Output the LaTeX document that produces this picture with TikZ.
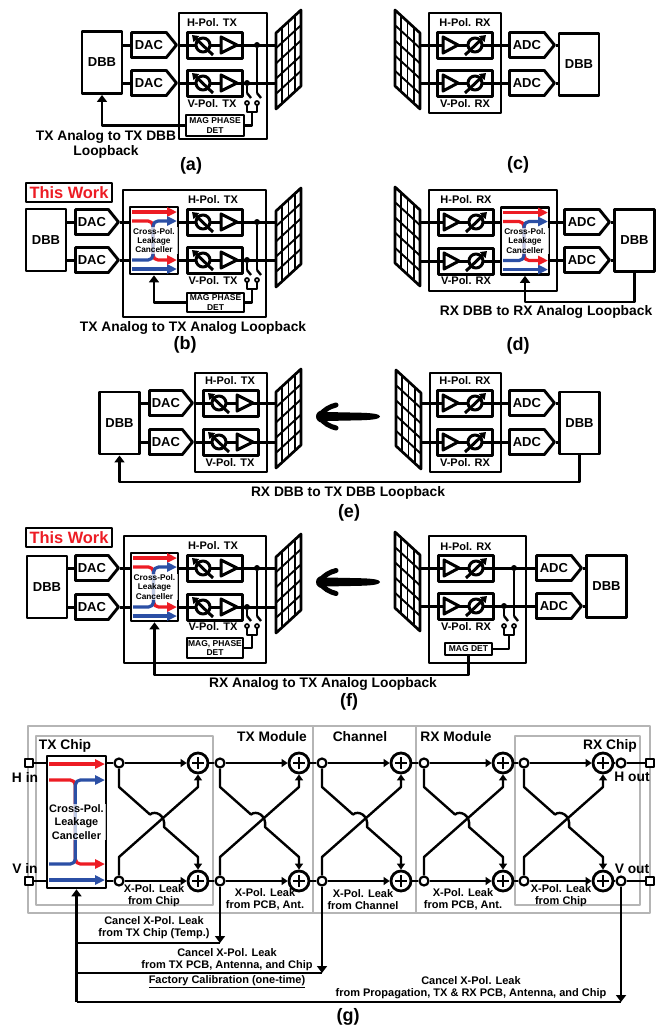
\documentclass[tikz,border=0pt]{standalone}
\usepackage{fontspec}
\setmainfont{Liberation Sans}
\usetikzlibrary{arrows.meta,shapes.symbols}
\definecolor{vermelho}{HTML}{ED1C24}
\definecolor{azul}{HTML}{2B4FA5}
\definecolor{cinza}{HTML}{B5B5B5}

\begin{document}
\begin{tikzpicture}[
        x=1pt, y=-1pt,
        >={Triangle[length=7pt,width=10pt]},
        line join=round,
        sig/.style={line width=3pt},
        fio/.style={line width=2.4pt},
        fino/.style={line width=1.9pt},
        gfio/.style={line width=2.4pt},
        seta/.style={-{Triangle[length=6pt,width=8pt]}},
        mod/.style={line width=2.9pt},
        moldura/.style={line width=2.6pt, draw=cinza},
        dbb/.style={rectangle, draw, line width=2.9pt, fill=white, minimum width=40pt, minimum height=62pt, inner sep=0pt, font=\fontsize{13}{15}\selectfont\bfseries},
        dac/.style={signal, signal to=east, signal from=nowhere, signal pointer angle=102, draw, line width=2.9pt, fill=white, anchor=west, minimum width=45pt, minimum height=25pt, inner sep=0pt, font=\fontsize{13}{15}\selectfont\bfseries},
        mag/.style={rectangle, draw, line width=1.7pt, fill=white, inner sep=0pt, align=center, font=\fontsize{8.5}{9.5}\selectfont\bfseries},
        dot/.style={circle, fill=black, minimum size=6pt, inner sep=0pt},
        work/.style={rectangle, draw, line width=1.4pt, fill=white, minimum width=86pt, minimum height=19pt, inner sep=0pt, text=vermelho, font=\fontsize{16.4}{18}\selectfont\bfseries},
        lab/.style={inner sep=0pt, align=center, font=\fontsize{11}{12}\selectfont\bfseries},
        titulo/.style={inner sep=0pt, align=center, font=\fontsize{13.8}{15}\selectfont\bfseries},
        fig/.style={inner sep=0pt, font=\fontsize{18}{20}\selectfont\bfseries},
        tap/.style={circle, draw, line width=2.2pt, fill=white, minimum size=9pt, inner sep=0pt},
        porta/.style={rectangle, draw, line width=2.4pt, fill=white, minimum size=7.5pt, inner sep=0pt},
        summer/.style={circle, draw, line width=2.8pt, fill=white, minimum size=20pt, inner sep=0pt,
            path picture={\draw[line width=2.5pt]
                ([xshift=-6pt]path picture bounding box.center) -- ([xshift=6pt]path picture bounding box.center)
                ([yshift=-6pt]path picture bounding box.center) -- ([yshift=6pt]path picture bounding box.center);}},
        txpath/.pic={
            \coordinate (-in) at (0,0);
            \coordinate (-out) at (55,0);
            \draw[sig, fill=white] (0,-13) rectangle (55,13);
            \draw[sig] (-in) -- (-out);
            \draw[sig, fill=white] (16,0) circle (7);
            \draw[sig, -{Triangle[length=6pt,width=8pt]}] (26,10) -- (5,-10);
            \draw[sig, fill=white] (34,-8) -- (34,8) -- (50,0) -- cycle;
        },
        rxpath/.pic={
            \coordinate (-in) at (0,0);
            \coordinate (-out) at (55,0);
            \draw[sig, fill=white] (0,-13) rectangle (55,13);
            \draw[sig] (-in) -- (-out);
            \draw[sig, fill=white] (6,-8) -- (6,8) -- (21,0) -- cycle;
            \draw[sig, fill=white] (38,0) circle (7);
            \draw[sig, -{Triangle[length=6pt,width=8pt]}] (28,10) -- (49,-10);
        },
        antena/.pic={
            \coordinate (-edge) at (0,0);
            \draw[line width=2.7pt, fill=white] (0,0) -- (25,-23) -- (25,53) -- (0,76) -- cycle;
            \foreach \i in {1,2,3}
                \draw[line width=1.9pt] ({\i*6.25},{-\i*5.75}) -- ++(0,76);
            \foreach \j in {1,2,3,4}
                \draw[line width=1.9pt] (0,{\j*15.2}) -- ++(25,-23);
        },
        chaves/.pic={
            \coordinate (-a) at (0,10);
            \coordinate (-b) at (10,10);
            \coordinate (-j) at (5,29);
            \draw[line width=2.4pt] (0,10) -- (4,15) (10,10) -- (14,15);
            \draw[fio] (0,22) -- (0,29) -- (10,29) -- (10,22);
            \draw[line width=1.7pt, fill=white] (0,20) circle (2) (10,20) circle (2);
        },
        feixe/.pic={
            \fill (0,0) .. controls (0,-2.5) and (-8,-3.5) .. (-20,-3.8) -- (-54,-4.5)
                -- (-54,4.5) -- (-20,3.8) .. controls (-8,3.5) and (0,2.5) .. (0,0) -- cycle;
            \fill (-58,0) circle (6);
            \draw[line width=5pt, line cap=round] (-60,-1) .. controls (-56,-7) and (-50,-10) .. (-44,-11.5);
            \draw[line width=5pt, line cap=round] (-60,1) .. controls (-56,7) and (-50,10) .. (-44,11.5);
        },
        pics/canceller/.style n args={5}{code={
            \node[rectangle, draw, line width=2.7pt, fill=white, minimum width=#1pt, minimum height=#2pt, inner sep=0pt] (-box) at ({#1/2},{#2/2}) {};
            \draw[line width=3.2pt, draw=vermelho, -{Triangle[length=10pt,width=9pt]}] (2,#3) -- ({#1-1},#3);
            \draw[line width=3.2pt, draw=azul, -{Triangle[length=10pt,width=9pt]}] (2,{#2-#3}) -- ({#1-1},{#2-#3});
            \draw[line width=3.2pt, draw=vermelho, rounded corners=5pt, -{Triangle[length=10pt,width=9pt]}] (2,#4) -- ({#1*0.48},#4) -- ({#1*0.48},{#2-#4}) -- ({#1-1},{#2-#4});
            \draw[line width=3.2pt, draw=azul, rounded corners=5pt, -{Triangle[length=10pt,width=9pt]}] (2,{#2-#4}) -- ({#1*0.48},{#2-#4}) -- ({#1*0.48},#4) -- ({#1-1},#4);
            \node[fill=white, fill opacity=0.7, text opacity=1, inner sep=1pt, align=center, text width=#1pt-3pt, font=#5\bfseries] (-txt) at ({#1/2},{#2/2}) {Cross-Pol.\\Leakage\\Canceller};
        }}
    ]

        \useasboundingbox (0,0) rectangle (662,1028);

        % ==================================================
        % (a)
        % ==================================================

        \draw[mod] (179,13) rectangle (267,139);
        \node[lab] (hA) at (212,23) {H-Pol. TX};
        \node[lab] (vA) at (212,104) {V-Pol. TX};

        \node[dbb] (dbbA) at (102,62.5) {DBB};
        \node[dac] (dacA1) at (130,45) {DAC};
        \node[dac] (dacA2) at (130,83) {DAC};
        \pic (pA1) at (187,45) {txpath};
        \pic (pA2) at (187,83) {txpath};
        \pic (antA) at (276,33) {antena};

        \draw[sig] (dacA1.west -| dbbA.east) -- (dacA1.west);
        \draw[sig] (dacA2.west -| dbbA.east) -- (dacA2.west);
        \draw[sig] (dacA1.east) -- (pA1-in);
        \draw[sig] (dacA2.east) -- (pA2-in);
        \draw[sig] (pA1-out) -- (pA1-out -| antA-edge);
        \draw[sig] (pA2-out) -- (pA2-out -| antA-edge);

        % Detector
        \node[dot] (dA1) at (257,45) {};
        \node[dot] (dA2) at (247,83) {};
        \pic (swA) at (247,83) {chaves};
        \draw[fino] (dA1) -- (swA-b);
        \draw[fino] (dA2) -- (swA-a);
        \node[mag, minimum width=58pt, minimum height=21pt] (magA) at (215,125.5) {MAG PHASE\\DET};
        \draw[fio] (swA-j) |- (magA.east);
        \draw[fio, ->] (magA.west) -| (dbbA.south);

        \node[titulo] (tA) at (106,144.5) {TX Analog to TX DBB\\Loopback};
        \node[fig] (figA) at (191,166) {(a)};

        % ==================================================
        % (c)
        % ==================================================

        \draw[mod] (429,13) rectangle (501,113);
        \node[lab] (hC) at (465,23) {H-Pol. RX};
        \node[lab] (vC) at (465,104) {V-Pol. RX};

        \pic[xscale=-1] (antC) at (420,33) {antena};
        \pic (pC1) at (437,45) {rxpath};
        \pic (pC2) at (437,83) {rxpath};
        \node[dac] (adcC1) at (508,45) {ADC};
        \node[dac] (adcC2) at (508,83) {ADC};
        \node[dbb] (dbbC) at (579,64.5) {DBB};

        \draw[sig] (pC1-in -| antC-edge) -- (pC1-in);
        \draw[sig] (pC2-in -| antC-edge) -- (pC2-in);
        \draw[sig] (pC1-out) -- (adcC1.west);
        \draw[sig] (pC2-out) -- (adcC2.west);
        \draw[sig] (adcC1.east) -- (adcC1.east -| dbbC.west);
        \draw[sig] (adcC2.east) -- (adcC2.east -| dbbC.west);

        \node[fig] (figC) at (518,165) {(c)};

        % ==================================================
        % (b)
        % ==================================================

        \node[work] (workB) at (69,192.5) {This Work};
        \draw[mod] (123,190) rectangle (266,317);
        \node[lab] (hB) at (213,200) {H-Pol. TX};
        \node[lab] (vB) at (213,281) {V-Pol. TX};

        \node[dbb] (dbbB) at (46,240) {DBB};
        \node[dac, minimum width=43pt] (dacB1) at (74,222) {DAC};
        \node[dac, minimum width=43pt] (dacB2) at (74,260) {DAC};
        \pic (cancB) at (130,207) {canceller={48}{67}{5}{14}{\fontsize{8.3}{9.2}\selectfont}};
        \pic (pB1) at (187,222) {txpath};
        \pic (pB2) at (187,260) {txpath};
        \pic (antB) at (276,211) {antena};

        \draw[sig] (dacB1.west -| dbbB.east) -- (dacB1.west);
        \draw[sig] (dacB2.west -| dbbB.east) -- (dacB2.west);
        \draw[sig] (dacB1.east) -- (dacB1.east -| cancB-box.west);
        \draw[sig] (dacB2.east) -- (dacB2.east -| cancB-box.west);
        \draw[sig] (pB1-in -| cancB-box.east) -- (pB1-in);
        \draw[sig] (pB2-in -| cancB-box.east) -- (pB2-in);
        \draw[sig] (pB1-out) -- (pB1-out -| antB-edge);
        \draw[sig] (pB2-out) -- (pB2-out -| antB-edge);

        % Detector
        \node[dot] (dB1) at (257,222) {};
        \node[dot] (dB2) at (247,260) {};
        \pic (swB) at (247,260) {chaves};
        \draw[fino] (dB1) -- (swB-b);
        \draw[fino] (dB2) -- (swB-a);
        \node[mag, minimum width=57pt, minimum height=19pt] (magB) at (215.5,302.5) {MAG PHASE\\DET};
        \draw[fio] (swB-j) |- (magB.east);
        \draw[fio, ->] (magB.west) -| (cancB-box.south);

        \node[titulo] (tB) at (193,328) {TX Analog to TX Analog Loopback};
        \node[fig] (figB) at (185,345) {(b)};

        % ==================================================
        % (d)
        % ==================================================

        \draw[mod] (429,190) rectangle (557,291);
        \node[lab] (hD) at (466,200) {H-Pol. RX};
        \node[lab] (vD) at (466,281) {V-Pol. RX};

        \pic[xscale=-1] (antD) at (420,210) {antena};
        \pic (pD1) at (438,222) {rxpath};
        \pic (pD2) at (438,261) {rxpath};
        \pic (cancD) at (501,207.5) {canceller={48}{67}{5}{14}{\fontsize{8.3}{9.2}\selectfont}};
        \node[dac] (adcD1) at (563,222) {ADC};
        \node[dac] (adcD2) at (563,260) {ADC};
        \node[dbb] (dbbD) at (634.5,240.5) {DBB};
        \coordinate (lpD) at (600,302);

        \draw[sig] (pD1-in -| antD-edge) -- (pD1-in);
        \draw[sig] (pD2-in -| antD-edge) -- (pD2-in);
        \draw[sig] (pD1-out) -- (pD1-out -| cancD-box.west);
        \draw[sig] (pD2-out) -- (pD2-out -| cancD-box.west);
        \draw[sig] (adcD1.west -| cancD-box.east) -- (adcD1.west);
        \draw[sig] (adcD2.west -| cancD-box.east) -- (adcD2.west);
        \draw[sig] (adcD1.east) -- (adcD1.east -| dbbD.west);
        \draw[sig] (adcD2.east) -- (adcD2.east -| dbbD.west);
        \draw[fio, ->] (dbbD.south) |- (lpD) -| (cancD-box.south);

        \node[titulo] (tD) at (546,312) {RX DBB to RX Analog Loopback};
        \node[fig] (figD) at (518,346) {(d)};

        % ==================================================
        % (e)
        % ==================================================

        \draw[mod] (195,373) rectangle (267,472);
        \node[lab] (hE1) at (230,381) {H-Pol. TX};
        \node[lab] (vE1) at (230,463) {V-Pol. TX};
        \draw[mod] (430,373) rectangle (501,472);
        \node[lab] (hE2) at (465,381) {H-Pol. RX};
        \node[lab] (vE2) at (465,463) {V-Pol. RX};

        \node[dbb] (dbbE1) at (119.5,423) {DBB};
        \node[dac, minimum width=43pt] (dacE1) at (148,403) {DAC};
        \node[dac, minimum width=43pt] (dacE2) at (148,442) {DAC};
        \pic (pE1) at (203,403) {txpath};
        \pic (pE2) at (203,442) {txpath};
        \pic (antE1) at (276,392) {antena};

        \pic (feixeE) at (380,416.5) {feixe};

        \pic[xscale=-1] (antE2) at (421,393) {antena};
        \pic (pE3) at (437,403) {rxpath};
        \pic (pE4) at (437,442) {rxpath};
        \node[dac] (adcE1) at (508,403) {ADC};
        \node[dac] (adcE2) at (508,442) {ADC};
        \node[dbb] (dbbE2) at (579.5,423) {DBB};
        \coordinate (lpE) at (350,482);

        \draw[sig] (dacE1.west -| dbbE1.east) -- (dacE1.west);
        \draw[sig] (dacE2.west -| dbbE1.east) -- (dacE2.west);
        \draw[sig] (dacE1.east) -- (pE1-in);
        \draw[sig] (dacE2.east) -- (pE2-in);
        \draw[sig] (pE1-out) -- (pE1-out -| antE1-edge);
        \draw[sig] (pE2-out) -- (pE2-out -| antE1-edge);
        \draw[sig] (pE3-in -| antE2-edge) -- (pE3-in);
        \draw[sig] (pE4-in -| antE2-edge) -- (pE4-in);
        \draw[sig] (pE3-out) -- (adcE1.west);
        \draw[sig] (pE4-out) -- (adcE2.west);
        \draw[sig] (adcE1.east) -- (adcE1.east -| dbbE2.west);
        \draw[sig] (adcE2.east) -- (adcE2.east -| dbbE2.west);
        \draw[fio, ->] (dbbE2.south) |- (lpE) -| (dbbE1.south);

        \node[titulo] (tE) at (348,493) {RX DBB to TX DBB Loopback};
        \node[fig] (figE) at (349,513) {(e)};

        % ==================================================
        % (f)
        % ==================================================

        \node[work] (workF) at (69,537.5) {This Work};
        \draw[mod] (124,536) rectangle (266,663);
        \node[lab] (hF1) at (213,546) {H-Pol. TX};
        \node[lab] (vF1) at (213,627) {V-Pol. TX};
        \draw[mod] (429,536) rectangle (526,663);
        \node[lab] (hF2) at (466,547) {H-Pol. RX};
        \node[lab] (vF2) at (466,627) {V-Pol. RX};

        \node[dbb] (dbbF1) at (47,587) {DBB};
        \node[dac, minimum width=43pt] (dacF1) at (74,568) {DAC};
        \node[dac, minimum width=43pt] (dacF2) at (74,607) {DAC};
        \pic (cancF) at (131,553) {canceller={47}{68}{5}{14}{\fontsize{8.3}{9.2}\selectfont}};
        \pic (pF1) at (187,568) {txpath};
        \pic (pF2) at (187,607) {txpath};
        \pic (antF1) at (276,557) {antena};

        \pic (feixeF) at (380,582) {feixe};

        \pic[xscale=-1] (antF2) at (420,555) {antena};
        \pic (pF3) at (438,568) {rxpath};
        \pic (pF4) at (438,606) {rxpath};
        \node[dac] (adcF1) at (535,568) {ADC};
        \node[dac] (adcF2) at (535,606) {ADC};
        \node[dbb] (dbbF2) at (606.5,586.5) {DBB};

        \draw[sig] (dacF1.west -| dbbF1.east) -- (dacF1.west);
        \draw[sig] (dacF2.west -| dbbF1.east) -- (dacF2.west);
        \draw[sig] (dacF1.east) -- (dacF1.east -| cancF-box.west);
        \draw[sig] (dacF2.east) -- (dacF2.east -| cancF-box.west);
        \draw[sig] (pF1-in -| cancF-box.east) -- (pF1-in);
        \draw[sig] (pF2-in -| cancF-box.east) -- (pF2-in);
        \draw[sig] (pF1-out) -- (pF1-out -| antF1-edge);
        \draw[sig] (pF2-out) -- (pF2-out -| antF1-edge);
        \draw[sig] (pF3-in -| antF2-edge) -- (pF3-in);
        \draw[sig] (pF4-in -| antF2-edge) -- (pF4-in);
        \draw[sig] (pF3-out) -- (adcF1.west);
        \draw[sig] (pF4-out) -- (adcF2.west);
        \draw[sig] (adcF1.east) -- (adcF1.east -| dbbF2.west);
        \draw[sig] (adcF2.east) -- (adcF2.east -| dbbF2.west);

        % Detectores
        \node[dot] (dF1) at (257,568) {};
        \node[dot] (dF2) at (247,607) {};
        \pic (swF1) at (247,606) {chaves};
        \draw[fino] (dF1) -- (swF1-b);
        \draw[fino] (dF2) -- (swF1-a);
        \node[mag, minimum width=56pt, minimum height=20pt] (magF) at (215,648) {MAG, PHASE\\DET};
        \draw[fio] (swF1-j) |- (magF.east);

        \node[dot] (dF3) at (514,568) {};
        \node[dot] (dF4) at (504,606) {};
        \pic (swF2) at (504,606) {chaves};
        \draw[fino] (dF3) -- (swF2-b);
        \draw[fino] (dF4) -- (swF2-a);
        \node[mag, minimum width=47pt, minimum height=12pt] (detF) at (468.5,649) {MAG DET};
        \draw[fio] (swF2-j) |- (detF.east);

        \coordinate (lpF) at (320,675);
        \draw[fio, ->] (detF.south) |- (lpF) -| (cancF-box.south);

        \node[titulo] (tF) at (323,684) {RX Analog to TX Analog Loopback};
        \node[fig] (figF) at (349,702) {(f)};

        % ==================================================
        % (g)
        % ==================================================

        \draw[moldura] (28,726) rectangle (650,913);
        \draw[moldura] (313,726) -- (313,913);
        \draw[moldura] (416,726) -- (416,913);
        \draw[moldura] (36,736) rectangle (213,905);
        \draw[moldura] (515,736) rectangle (640,905);

        \node[titulo] (tModG) at (272,737) {TX Module};
        \node[titulo] (chG) at (360,737) {Channel};
        \node[titulo] (rModG) at (456,737) {RX Module};
        \node[titulo] (tChipG) at (65,746) {TX Chip};
        \node[titulo] (rChipG) at (610,746) {RX Chip};

        % Entradas e saidas
        \node[porta] (hIn) at (29,763) {};
        \node[porta] (vIn) at (29,881) {};
        \node[porta] (hOut) at (650,763) {};
        \node[porta] (vOut) at (650,881) {};
        \node[titulo] (hInT) at (25,777) {H in};
        \node[titulo] (vInT) at (25,868) {V in};
        \node[titulo] (hOutT) at (632,777) {H out};
        \node[titulo] (vOutT) at (632,869) {V out};

        \pic (cancG) at (47,756) {canceller={59}{132}{8}{24}{\fontsize{10.9}{13.3}\selectfont}};

        % Estagios
        \foreach \n/\x in {1/119,2/220,3/322,4/424,5/524}{
            \node[tap] (th\n) at (\x,763) {};
            \node[tap] (tv\n) at (\x,881) {};
            \node[summer] (sh\n) at ({\x+79},763) {};
            \node[summer] (sv\n) at ({\x+79},881) {};
            \draw[gfio, seta] (th\n) -- (sh\n);
            \draw[gfio, seta] (tv\n) -- (sv\n);
            \draw[gfio, seta] (tv\n) -- (\x,857) -- ({\x+79},787) -- (sh\n);
            \draw[gfio, seta] (th\n) -- (\x,787) -- ({\x+31},814.5) .. controls ({\x+36},810) and ({\x+47},815) .. ({\x+45},827) -- ({\x+79},857) -- (sv\n);
        }
        \foreach \a/\b in {1/2,2/3,3/4,4/5}{
            \draw[gfio] (sh\a) -- (th\b);
            \draw[gfio] (sv\a) -- (tv\b);
        }

        \node[tap] (thF) at (621,763) {};
        \node[tap] (tvF) at (621,881) {};
        \draw[gfio] (hIn) -- (hIn -| cancG-box.west);
        \draw[gfio] (vIn) -- (vIn -| cancG-box.west);
        \draw[gfio] (th1 -| cancG-box.east) -- (th1);
        \draw[gfio] (tv1 -| cancG-box.east) -- (tv1);
        \draw[gfio] (sh5) -- (thF);
        \draw[gfio] (sv5) -- (tvF);
        \draw[gfio] (thF) -- (hOut);
        \draw[gfio] (tvF) -- (vOut);

        \node[lab] (xG1) at (154,895.5) {X-Pol. Leak\\from Chip};
        \node[lab] (xG2) at (265,899.5) {X-Pol. Leak\\from PCB, Ant.};
        \node[lab] (xG3) at (363,899.5) {X-Pol. Leak\\from Channel};
        \node[lab] (xG4) at (463,899.5) {X-Pol. Leak\\from PCB, Ant.};
        \node[lab] (xG5) at (561,895.5) {X-Pol. Leak\\from Chip};

        % Realimentacao
        \coordinate (fb1) at (cancG-box.south |- 0,943);
        \coordinate (fb2) at (cancG-box.south |- 0,973);
        \coordinate (fb3) at (cancG-box.south |- 0,1002);
        \draw[gfio, ->] (fb3) -- (cancG-box.south);
        \draw[gfio] (fb1) -- (fb1 -| tv2);
        \draw[gfio] (fb2) -- (fb2 -| tv3);
        \draw[gfio] (fb3) -- (fb3 -| tvF);
        \draw[gfio, ->] (tv2) -- (fb1 -| tv2);
        \draw[gfio, ->] (tv3) -- (fb2 -| tv3);
        \draw[gfio, ->] (tvF) -- (fb3 -| tvF);

        \node[lab] (cG1) at (154,928) {Cancel X-Pol. Leak\\from TX Chip (Temp.)};
        \node[lab] (cG2) at (227,960) {Cancel X-Pol. Leak\\from TX PCB, Antenna, and Chip};
        \node[lab] (calG) at (227,982) {\underline{Factory Calibration (one-time)}};
        \node[lab] (cG3) at (471,988) {Cancel X-Pol. Leak\\from Propagation, TX \& RX PCB, Antenna, and Chip};

        \node[fig] (figG) at (348,1017) {(g)};

    \end{tikzpicture}
\end{document}
